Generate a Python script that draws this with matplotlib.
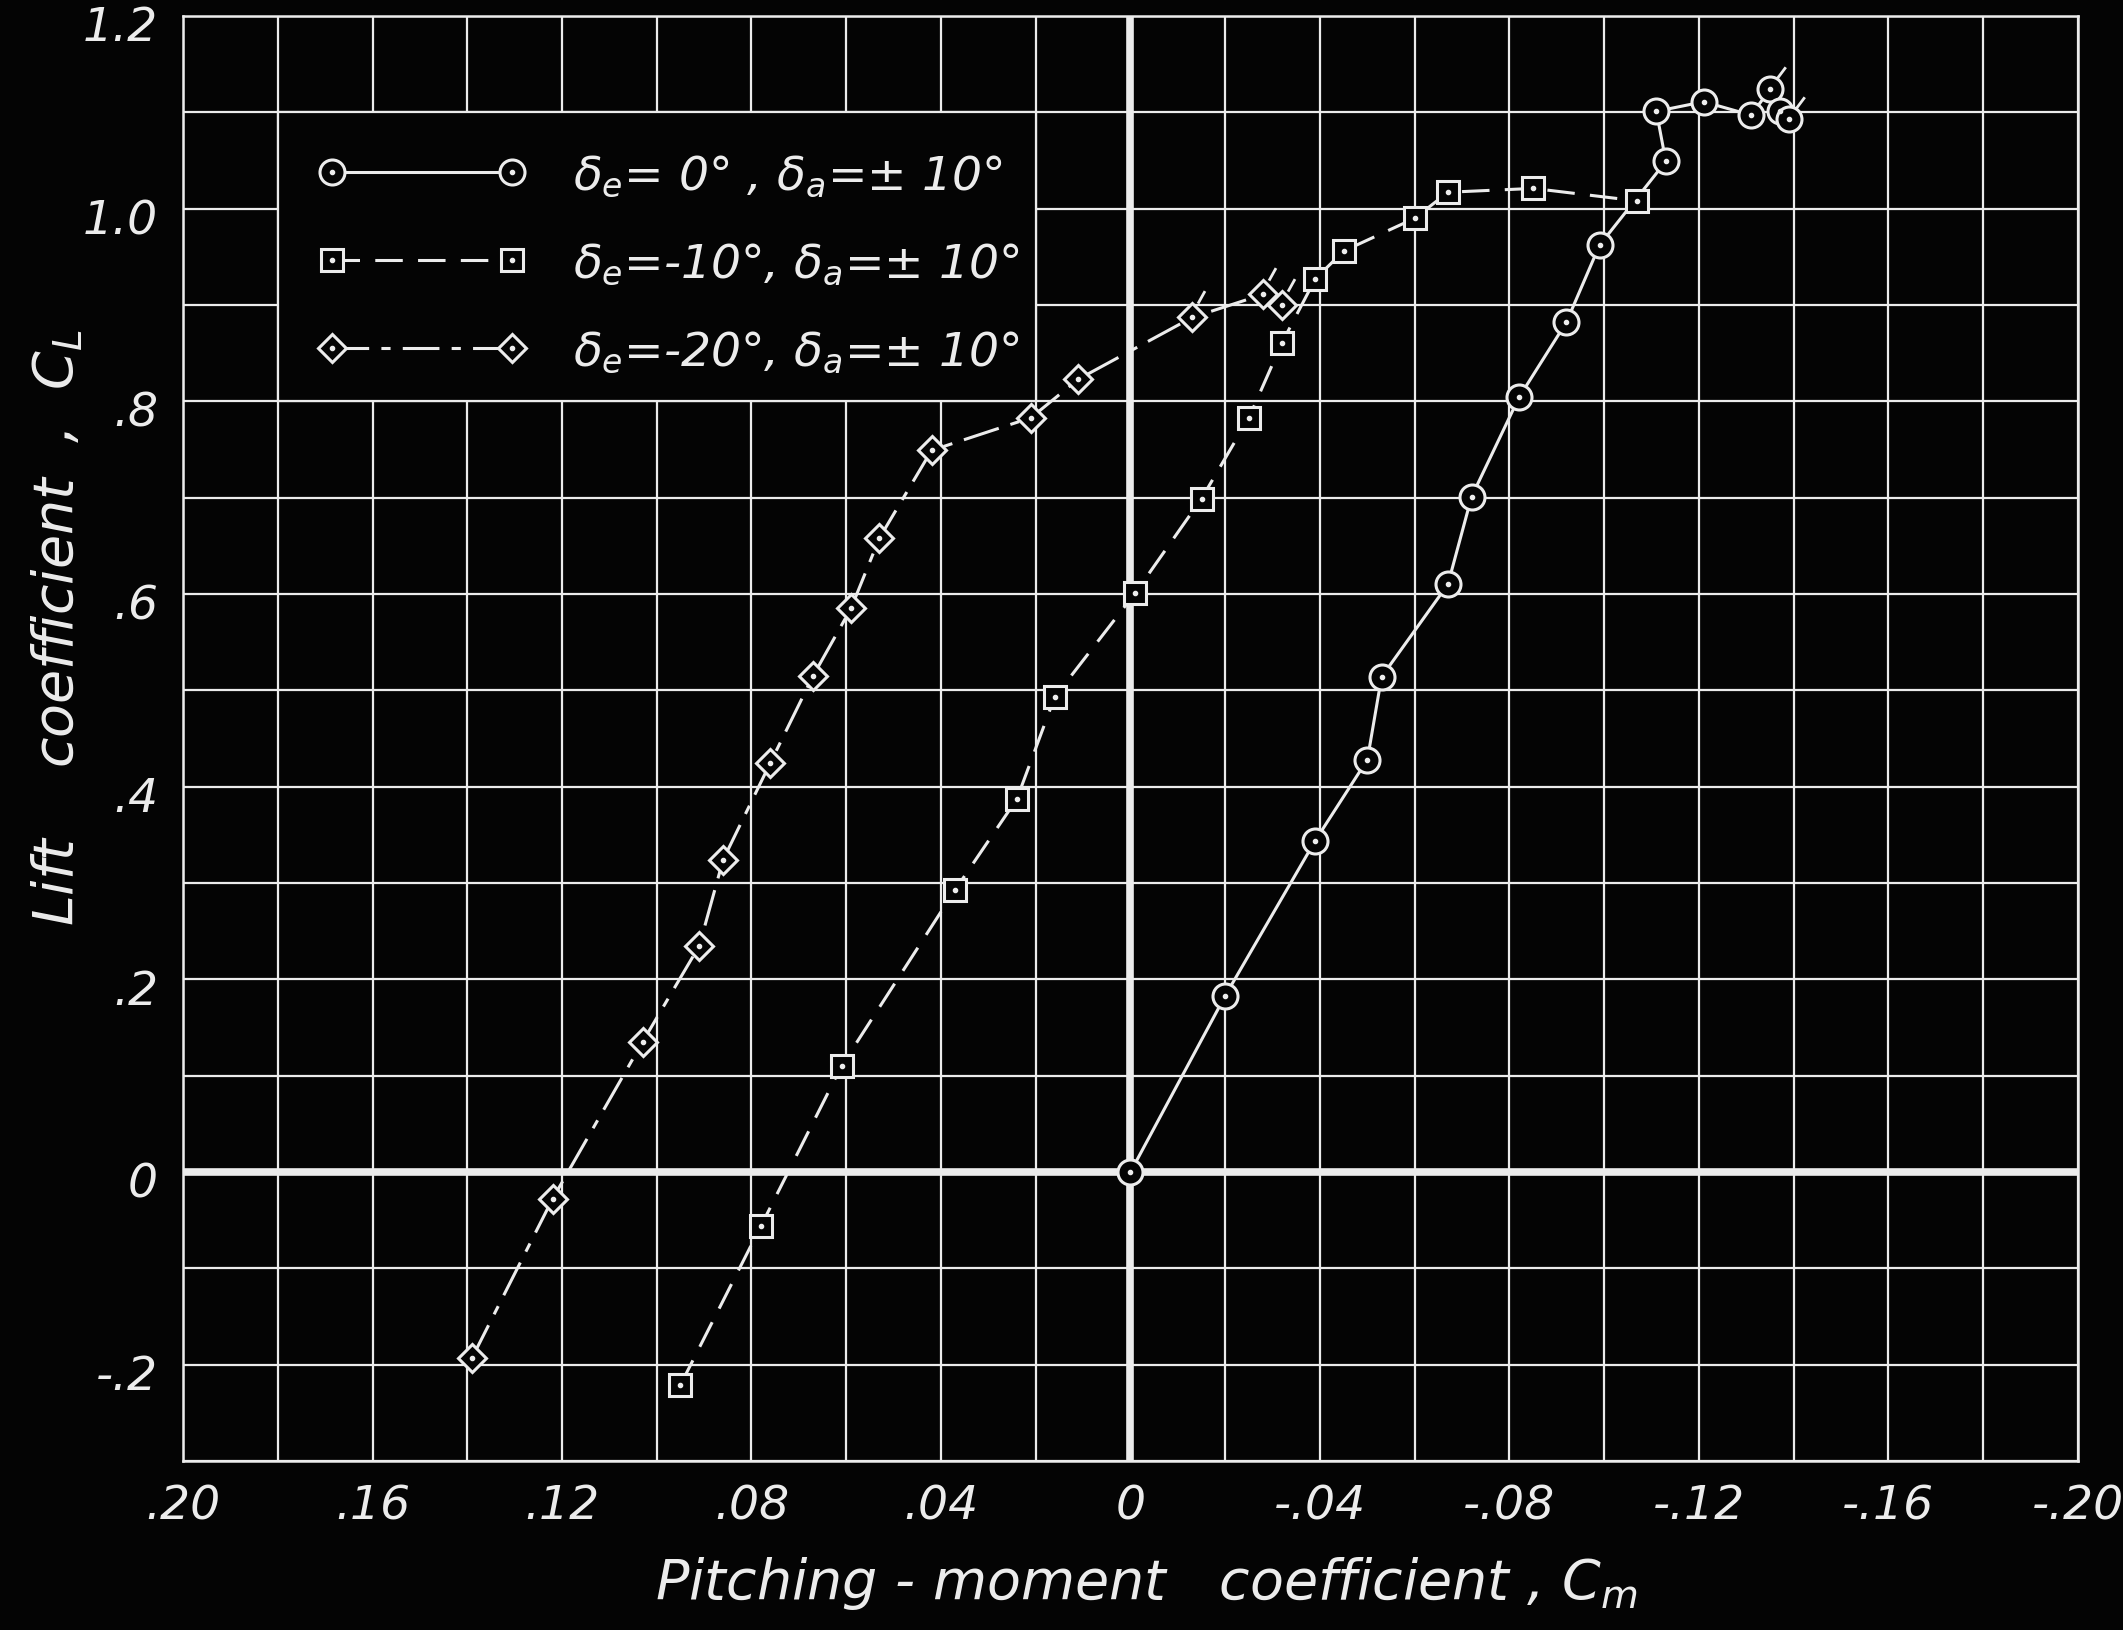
import matplotlib.pyplot as plt
from matplotlib.patches import Rectangle
from matplotlib.path import Path
from matplotlib.ticker import MultipleLocator
from matplotlib.transforms import ScaledTranslation
from matplotlib.legend_handler import HandlerTuple

plt.rcParams['font.family'] = 'DejaVu Sans'
plt.rcParams['font.style'] = 'italic'
plt.rcParams['mathtext.fontset'] = 'custom'
plt.rcParams['mathtext.it'] = 'DejaVu Sans:italic'
plt.rcParams['mathtext.rm'] = 'DejaVu Sans:italic'

INK = '#ececec'
BG = '#040404'

# delta_e = 0 deg (circles, solid)
cm_e0 = [0.0, -0.020, -0.039, -0.050, -0.053, -0.067, -0.072, -0.082, -0.092,
         -0.099, -0.113, -0.111, -0.121, -0.131, -0.135, -0.137, -0.139]
cl_e0 = [0.0, 0.183, 0.344, 0.428, 0.514, 0.610, 0.701, 0.804, 0.882,
         0.962, 1.049, 1.101, 1.111, 1.097, 1.124, 1.101, 1.093]
flag_e0 = [14, 16]

# delta_e = -10 deg (squares, dashed)
cm_e10 = [0.095, 0.078, 0.061, 0.037, 0.024, 0.016, -0.001, -0.015, -0.025,
          -0.032, -0.039, -0.045, -0.060, -0.067, -0.085, -0.107]
cl_e10 = [-0.221, -0.056, 0.110, 0.293, 0.387, 0.493, 0.601, 0.699, 0.783,
          0.861, 0.927, 0.956, 0.990, 1.017, 1.021, 1.008]

# delta_e = -20 deg (diamonds, long-short dash)
cm_e20 = [0.139, 0.122, 0.103, 0.091, 0.086, 0.076, 0.067, 0.059, 0.053,
          0.042, 0.021, 0.011, -0.013, -0.028, -0.032]
cl_e20 = [-0.193, -0.028, 0.135, 0.235, 0.324, 0.425, 0.515, 0.585, 0.658,
          0.749, 0.783, 0.823, 0.887, 0.911, 0.900]
flag_e20 = [12, 13, 14]

labels = [r'$\delta_e$= 0° , $\delta_a$=± 10°',
          r'$\delta_e$=-10°, $\delta_a$=± 10°',
          r'$\delta_e$=-20°, $\delta_a$=± 10°']

x_ticks = [0.20, 0.16, 0.12, 0.08, 0.04, 0.0, -0.04, -0.08, -0.12, -0.16, -0.20]
x_tick_labels = ['.20', '.16', '.12', '.08', '.04', '0', '-.04', '-.08', '-.12', '-.16', '-.20']
y_ticks = [-0.2, 0.0, 0.2, 0.4, 0.6, 0.8, 1.0, 1.2]
y_tick_labels = ['-.2', '0', '.2', '.4', '.6', '.8', '1.0', '1.2']

fig = plt.figure(figsize=(21.23, 16.31), dpi=100, facecolor=BG)
ax = fig.add_axes([0.0862, 0.1036, 0.8926, 0.886], facecolor=BG)

ax.set_xlim(0.20, -0.20)
ax.set_ylim(-0.3, 1.2)
ax.set_xticks(x_ticks)
ax.set_xticklabels(x_tick_labels)
ax.set_yticks(y_ticks)
ax.set_yticklabels(y_tick_labels)
ax.xaxis.set_minor_locator(MultipleLocator(0.02))
ax.yaxis.set_minor_locator(MultipleLocator(0.1))
ax.tick_params(which='both', length=0, colors=INK, labelsize=34)
ax.tick_params(axis='x', pad=16)
ax.tick_params(axis='y', pad=18)
# y labels sit a touch below their grid lines
nudge = ScaledTranslation(0, -5 / 72, fig.dpi_scale_trans)
for t in ax.get_yticklabels():
    t.set_transform(t.get_transform() + nudge)
ax.grid(which='both', color=INK, lw=1.6)
ax.set_axisbelow(True)
for s in ax.spines.values():
    s.set_color(INK)
    s.set_linewidth(1.8)

# heavy zero lines
ax.axhline(0, color=INK, lw=5.5, zorder=1)
ax.axvline(0, color=INK, lw=5.5, zorder=1)

# blank key panel covering the grid
ax.add_patch(Rectangle((0.02, 0.8), 0.16, 0.3, facecolor=BG, edgecolor=INK,
                       lw=1.6, zorder=1.5))

mk = dict(mfc=BG, mec=INK, mew=2.2)
dash10 = (0, (9, 5))
dash20 = (0, (12, 4, 3, 4))

l0, = ax.plot(cm_e0, cl_e0, color=INK, lw=2.2, ls='-', marker='o', ms=18, zorder=3, **mk)
l1, = ax.plot(cm_e10, cl_e10, color=INK, lw=2.2, ls=dash10, marker='s', ms=16, zorder=3, **mk)
l2, = ax.plot(cm_e20, cl_e20, color=INK, lw=2.2, ls=dash20, marker='D', ms=14, zorder=3, **mk)

dots = []
for xs, ys in [(cm_e0, cl_e0), (cm_e10, cl_e10), (cm_e20, cl_e20)]:
    d, = ax.plot(xs, ys, ls='none', marker='o', ms=3, color=INK, zorder=4)
    dots.append(d)

# little flags on repeated points
flag_c = Path([(5, 8), (11, 16)], [Path.MOVETO, Path.LINETO])
flag_d = Path([(4, 10), (9, 19)], [Path.MOVETO, Path.LINETO])
for i in flag_e0:
    ax.plot(cm_e0[i], cl_e0[i], marker=flag_c, ms=32, mfc='none', mec=INK, mew=2.0, zorder=4)
for i in flag_e20:
    ax.plot(cm_e20[i], cl_e20[i], marker=flag_d, ms=38, mfc='none', mec=INK, mew=2.0, zorder=4)

handles = [(l0, dots[0]), (l1, dots[1]), (l2, dots[2])]
leg = ax.legend(handles, labels, loc='upper left', bbox_to_anchor=(0.18, 1.1),
                bbox_transform=ax.transData, frameon=False, numpoints=2,
                handler_map={tuple: HandlerTuple(ndivide=1)},
                fontsize=34, handlelength=4.4, handletextpad=1.0,
                labelspacing=0.9, borderpad=0.85, borderaxespad=0)
for t in leg.get_texts():
    t.set_color(INK)
leg.set_zorder(5)

fig.text(0.027, 0.615, r'Lift    coefficient  ,  $C_L$', rotation=90, color=INK,
         fontsize=40, ha='center', va='center')
fig.text(0.54, 0.029, r'Pitching - moment   coefficient , $C_m$', color=INK,
         fontsize=40, ha='center', va='center')

fig.savefig('out.png', dpi=100, facecolor=BG)
